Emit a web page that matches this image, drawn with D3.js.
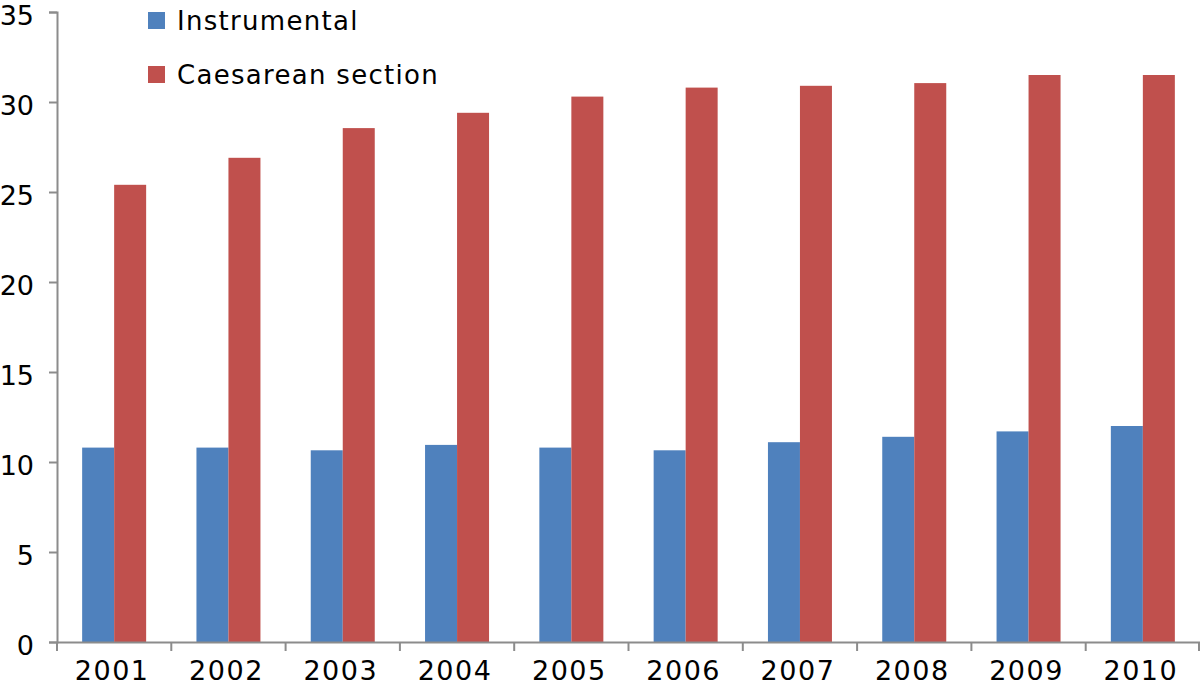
<!DOCTYPE html>
<html><head><meta charset="utf-8">
<script src="https://cdn.jsdelivr.net/npm/d3@7"></script>
<style>body{margin:0;background:#fff}svg{display:block}text{font-family:"DejaVu Sans",Verdana,sans-serif;fill:#000}</style>
</head><body><svg id="c" width="1200" height="688"></svg>
<script>
const years = ["2001","2002","2003","2004","2005","2006","2007","2008","2009","2010"];
const instrumental = [10.8,10.8,10.65,10.95,10.8,10.65,11.1,11.4,11.7,12.0];
const caesarean = [25.4,26.9,28.55,29.4,30.3,30.8,30.9,31.05,31.5,31.5];
const seriesNames = ["Instrumental","Caesarean section"];
const colors = ["#4F81BD","#C0504D"];
const yTicks = [0,5,10,15,20,25,30,35];

const svg = d3.select("#c");
const mL = 57, mR = 1200, mT = 12, mB = 642;
const x = d3.scaleBand().domain(years).range([mL,mR]).padding(0);
const y = d3.scaleLinear().domain([0,35]).range([mB,mT]);
const barW = 32;
const x1 = d3.scaleBand().domain(seriesNames).range([0, barW*2]);

const data = years.map((yr,i)=>({yr, vals:[instrumental[i], caesarean[i]]}));
const g = svg.append("g");
data.forEach(d=>{
  const cx = x(d.yr) + x.bandwidth()/2 - barW;
  g.selectAll(null).data(d.vals).enter().append("rect")
    .attr("x",(v,j)=>cx + x1(seriesNames[j]))
    .attr("width",x1.bandwidth())
    .attr("y",v=>y(v))
    .attr("height",v=>mB-y(v))
    .attr("fill",(v,j)=>colors[j]);
});

// y axis
const ya = svg.append("g").attr("transform",`translate(${mL},0)`)
  .call(d3.axisLeft(y).tickValues(yTicks).tickSize(8).tickPadding(15).tickFormat(d3.format("d")));
ya.select(".domain").attr("stroke","#8c8c8c").attr("stroke-width",2);
ya.selectAll(".tick line").attr("stroke","#8c8c8c").attr("stroke-width",2);
ya.selectAll(".tick text").attr("font-size",27).attr("font-family","DejaVu Sans").attr("fill","#000").attr("dy","0.46em");

// x axis
const xa = svg.append("g").attr("transform",`translate(0,${mB})`)
  .call(d3.axisBottom(x).tickSize(0).tickPadding(19));
xa.select(".domain").attr("stroke","#8c8c8c").attr("stroke-width",2);
xa.selectAll(".tick text").attr("font-size",27).attr("font-family","DejaVu Sans").attr("fill","#000").attr("dy","0.71em").attr("letter-spacing",1.5).attr("dx",-2);
// boundary ticks
xa.selectAll(".bt").data(years.concat(["end"])).enter().append("line")
  .attr("x1",(d,i)=> i<years.length ? x(d) : mR-1)
  .attr("x2",(d,i)=> i<years.length ? x(d) : mR-1)
  .attr("y1",0).attr("y2",9).attr("stroke","#8c8c8c").attr("stroke-width",2);

// legend
const lg = svg.append("g");
seriesNames.forEach((n,i)=>{
  const yy = 12 + i*54;
  lg.append("rect").attr("x",148).attr("y",yy).attr("width",17).attr("height",17).attr("fill",colors[i]);
  lg.append("text").attr("x",177).attr("y",yy+18).attr("font-size",26).attr("letter-spacing",1.3).text(n);
});
</script></body></html>
